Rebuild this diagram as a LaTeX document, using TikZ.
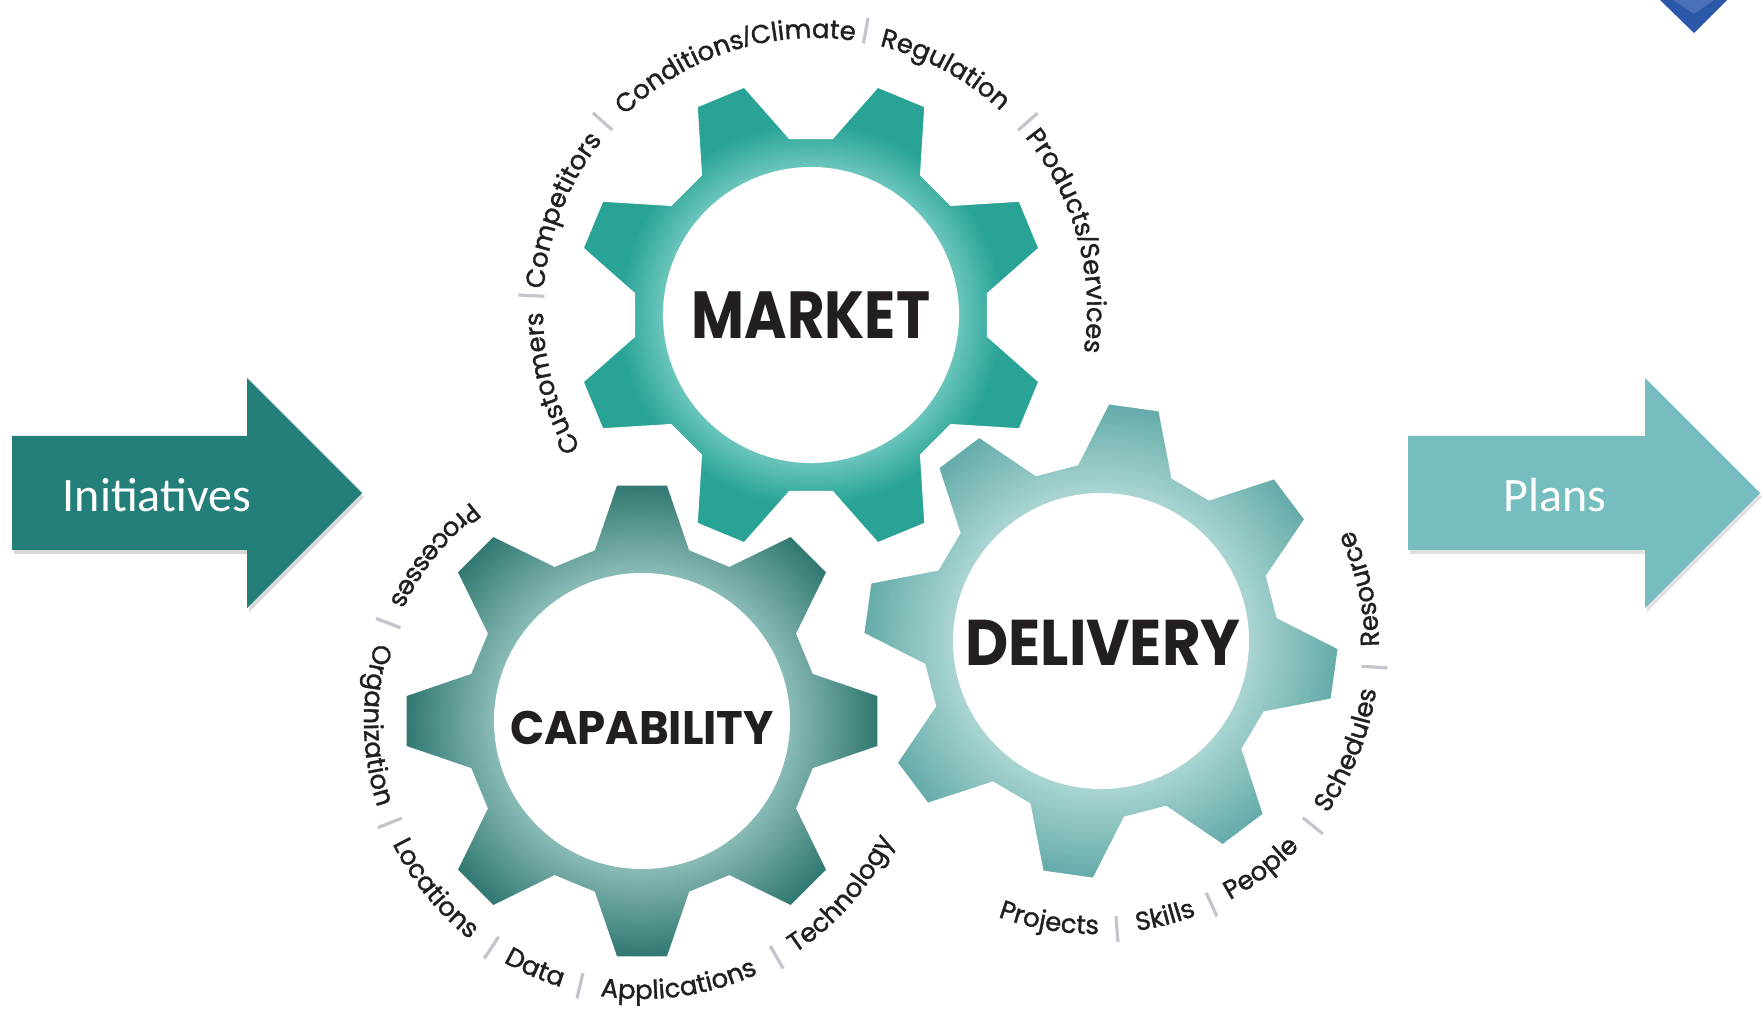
\documentclass[tikz,border=0pt]{standalone}
\usepackage{fontspec}
\setmainfont{Poppins}
\newfontfamily\calibri{Carlito}
\newfontfamily\labelfont{Poppins}[FakeBold=1.3]
\newfontfamily\slashfont{Liberation Sans}[FakeBold=1]
\usetikzlibrary{calc, decorations.text}
\definecolor{Ink}{HTML}{231F20}
\definecolor{SepGrey}{HTML}{C2C6CC}
\definecolor{MarketLight}{HTML}{6CC6BC}
\definecolor{MarketDark}{HTML}{28A396}
\definecolor{CapLight}{HTML}{8ABBB7}
\definecolor{CapDark}{HTML}{2D756F}
\definecolor{DelLight}{HTML}{AAD5D3}
\definecolor{DelDark}{HTML}{62AAA8}
\definecolor{InitTeal}{HTML}{247E7A}
\definecolor{PlanTeal}{HTML}{76BDBF}
\definecolor{BadgeBlue}{HTML}{2B57A9}
\definecolor{BadgeLight}{HTML}{4B70B7}
\newcommand{\lbl}{\labelfont\fontsize{13}{15}\selectfont}
\newcommand{\slsh}{{\slashfont\fontsize{14}{15}\selectfont /}}
% gear: centre, rotation, inner colour, outer colour, fade width
\newcommand{\gear}[5]{%
  \colorlet{gearin}{#3}\colorlet{gearout}{#4}%
  \begin{scope}[shift={(#1)}, rotate=#2]
    \begin{scope}
      \clip (-16:180) \foreach \k in {0,...,7}{ -- (45*\k-16:180) -- (45*\k-6.5:240) -- (45*\k+6.5:240) -- (45*\k+16:180)} -- cycle;
      \foreach \i in {0,...,46}{%
        \pgfmathsetmacro\rr{240-2*\i}%
        \pgfmathtruncatemacro\pp{max(0,min(100,100*(\rr-148)/#5))}%
        \fill[gearout!\pp!gearin] (0,0) circle (\rr);}
    \end{scope}
    \draw[white, line width=3pt] (-16:180) \foreach \k in {0,...,7}{ -- (45*\k-16:180) -- (45*\k-6.5:240) -- (45*\k+6.5:240) -- (45*\k+16:180)} -- cycle;
    \fill[white] (0,0) circle (148);
  \end{scope}}
% label on a clockwise arc, letters outward
\newcommand{\outlabel}[4]{%
  \path[shift={(#1)}, decorate, decoration={text along path, text align=center, text color=Ink, text={|\lbl|#4}}]
    (#3+60:#2) arc[start angle=#3+60, end angle=#3-60, radius=#2];}
% label on a counter-clockwise arc, letters inward
\newcommand{\inlabel}[4]{%
  \path[shift={(#1)}, decorate, decoration={text along path, text align=center, text color=Ink, text={|\lbl|#4}}]
    (#3-60:#2) arc[start angle=#3-60, end angle=#3+60, radius=#2];}

\begin{document}
\begin{tikzpicture}[x=0.5pt, y=0.5pt,
    sep/.style={SepGrey, line width=1.6pt},
    gearname/.style={text=Ink, inner sep=0pt},
    arrowtext/.style={text=white, font=\calibri\fontsize{24}{28}\selectfont}
  ]
  \fill[white] (0,0) rectangle (1762,1008);
  \useasboundingbox (0,0) rectangle (1762,1008);

  \coordinate (market) at (811,693);
  \coordinate (capability) at (642,287);
  \coordinate (delivery) at (1101,367);
  \coordinate (marketring) at (815,698);
  \coordinate (capring) at (642,287);
  \coordinate (delring) at (1095,358);

  % arrows
  \fill[black, opacity=.15] (14,568) -- (249,568) -- (249,626) -- (364,511) -- (249,396) -- (249,454) -- (14,454) -- cycle;
  \fill[InitTeal] (12,572) -- (247,572) -- (247,630) -- (362,515) -- (247,400) -- (247,458) -- (12,458) -- cycle;
  \node[arrowtext] (init) at (157,513) {Initiatives};
  \fill[black, opacity=.12] (1410,568) -- (1647,568) -- (1647,626) -- (1762,511) -- (1647,396) -- (1647,454) -- (1410,454) -- cycle;
  \fill[PlanTeal] (1408,572) -- (1645,572) -- (1645,630) -- (1760,515) -- (1645,400) -- (1645,458) -- (1408,458) -- cycle;
  \node[arrowtext] (plans) at (1555,513) {Plans};

  % corner badge
  \fill[BadgeBlue] (1660,1008) -- (1727,1008) -- (1694,975) -- cycle;
  \fill[BadgeLight] (1673,1008) -- (1714,1008) -- (1694,994) -- cycle;

  % gears
  \gear{market}{22.5}{MarketLight}{MarketDark}{45}
  \gear{capability}{0}{CapLight}{CapDark}{92}
  \gear{delivery}{-8}{DelLight}{DelDark}{92}

  \node[gearname, font=\bfseries\fontsize{33.3}{40}\selectfont] (mkt) at (market) {\scalebox{0.866}[1]{MARKET}};
  \node[gearname, font=\bfseries\fontsize{23.5}{28}\selectfont] (cap) at ($(capability)+(0,-7)$) {\scalebox{0.96}[1]{CAPABILITY}};
  \node[gearname, font=\bfseries\fontsize{32.3}{40}\selectfont] (del) at ($(delivery)+(2,-2)$) {\scalebox{0.92}[1]{DELIVERY}};

  % market labels
  \outlabel{marketring}{272}{195.5}{Customers}
  \outlabel{marketring}{272}{158.5}{Competitors}
  \outlabel{marketring}{272}{108}{Conditions{\slsh}Climate}
  \outlabel{marketring}{272}{61.6}{Regulation}
  \outlabel{marketring}{272}{15.3}{Products{\slsh}Services}
  \foreach \a in {177.1,138.4,79.7,41.5}
    \draw[sep, shift={(marketring)}] (\a:271) -- (\a:297);

  % capability labels
  \inlabel{capring}{278}{141.4}{Processes}
  \inlabel{capring}{278}{180.9}{Organization}
  \inlabel{capring}{278}{219}{Locations}
  \inlabel{capring}{278}{246.6}{Data}
  \inlabel{capring}{278}{278}{Applications}
  \inlabel{capring}{278}{319}{Technology}
  \foreach \a in {158.9,202,236.4,256.8,299.7}
    \draw[sep, shift={(capring)}] (\a:259) -- (\a:285);

  % delivery labels
  \inlabel{delring}{284}{260.4}{Projects}
  \inlabel{delring}{284}{284.7}{Skills}
  \inlabel{delring}{284}{307.2}{People}
  \inlabel{delring}{284}{338.4}{Schedules}
  \inlabel{delring}{284}{12.9}{Resource}
  \foreach \a in {274.5,294.6,321.1,356.5}
    \draw[sep, shift={(delring)}] (\a:267) -- (\a:293);
\end{tikzpicture}
\end{document}
